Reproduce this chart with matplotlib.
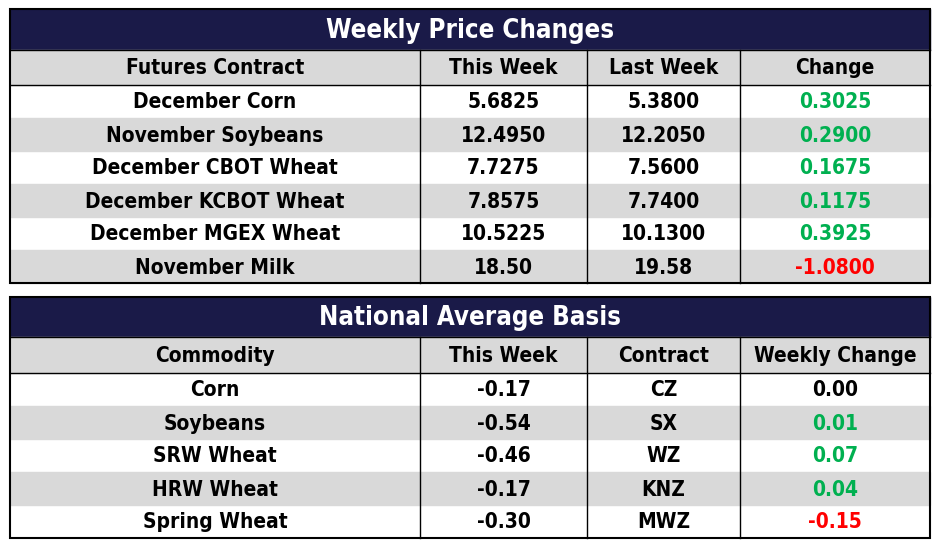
import matplotlib.pyplot as plt
from matplotlib.patches import Rectangle

NAVY = "#1a1a48"
GRAY = "#d9d9d9"
GREEN = "#00b050"
RED = "#ff0000"

price_title = "Weekly Price Changes"
price_header = ["Futures Contract", "This Week", "Last Week", "Change"]
price_contracts = ["December Corn", "November Soybeans", "December CBOT Wheat",
                   "December KCBOT Wheat", "December MGEX Wheat", "November Milk"]
price_this = ["5.6825", "12.4950", "7.7275", "7.8575", "10.5225", "18.50"]
price_last = ["5.3800", "12.2050", "7.5600", "7.7400", "10.1300", "19.58"]
price_change = [0.3025, 0.2900, 0.1675, 0.1175, 0.3925, -1.0800]

basis_title = "National Average Basis"
basis_header = ["Commodity", "This Week", "Contract", "Weekly Change"]
basis_commodity = ["Corn", "Soybeans", "SRW Wheat", "HRW Wheat", "Spring Wheat"]
basis_this = ["-0.17", "-0.54", "-0.46", "-0.17", "-0.30"]
basis_contract = ["CZ", "SX", "WZ", "KNZ", "MWZ"]
basis_change = [0.00, 0.01, 0.07, 0.04, -0.15]

COLS = [10, 420, 587, 740, 930]
FONT = dict(family="DejaVu Sans", fontstretch="condensed", fontweight="bold")


def change_color(v):
    if v > 0:
        return GREEN
    if v < 0:
        return RED
    return "black"


def draw_table(ax, top, title, header, rows, colors, title_h=41, head_h=35, row_h=33):
    x0, x1 = COLS[0], COLS[-1]
    ax.add_patch(Rectangle((x0, top), x1 - x0, title_h, color=NAVY))
    ax.text((x0 + x1) / 2, top + title_h / 2 + 1, title, color="white",
            fontsize=18.5, ha="center", va="center", **FONT)
    y = top + title_h
    ax.add_patch(Rectangle((x0, y), x1 - x0, head_h, color=GRAY))
    for j, h in enumerate(header):
        ax.text((COLS[j] + COLS[j + 1]) / 2, y + head_h / 2 + 1, h,
                fontsize=15, ha="center", va="center", **FONT)
    ax.plot([x0, x1], [y, y], color="black", lw=1)
    ax.plot([x0, x1], [y + head_h, y + head_h], color="black", lw=1)
    y += head_h
    for i, row in enumerate(rows):
        if i % 2 == 1:
            ax.add_patch(Rectangle((x0, y), x1 - x0, row_h, color=GRAY))
        for j, cell in enumerate(row):
            c = colors[i] if j == 3 else "black"
            ax.text((COLS[j] + COLS[j + 1]) / 2, y + row_h / 2 + 1, cell, color=c,
                    fontsize=15, ha="center", va="center", **FONT)
        y += row_h
    for xc in COLS[1:-1]:
        ax.plot([xc, xc], [top + title_h, y], color="black", lw=1)
    ax.add_patch(Rectangle((x0, top), x1 - x0, y - top, fill=False,
                           edgecolor="black", lw=1.5))


fig = plt.figure(figsize=(9.4, 5.54), dpi=100)
ax = fig.add_axes([0, 0, 1, 1])
ax.set_xlim(0, 940)
ax.set_ylim(554, 0)
ax.axis("off")

price_rows = [[a, b, c, f"{d:.4f}"] for a, b, c, d in
              zip(price_contracts, price_this, price_last, price_change)]
draw_table(ax, 9, price_title, price_header, price_rows,
           [change_color(v) for v in price_change])

basis_rows = [[a, b, c, f"{d:.2f}"] for a, b, c, d in
              zip(basis_commodity, basis_this, basis_contract, basis_change)]
draw_table(ax, 297, basis_title, basis_header, basis_rows,
           [change_color(v) for v in basis_change], title_h=40, head_h=36)

fig.savefig("out.png", dpi=100)
